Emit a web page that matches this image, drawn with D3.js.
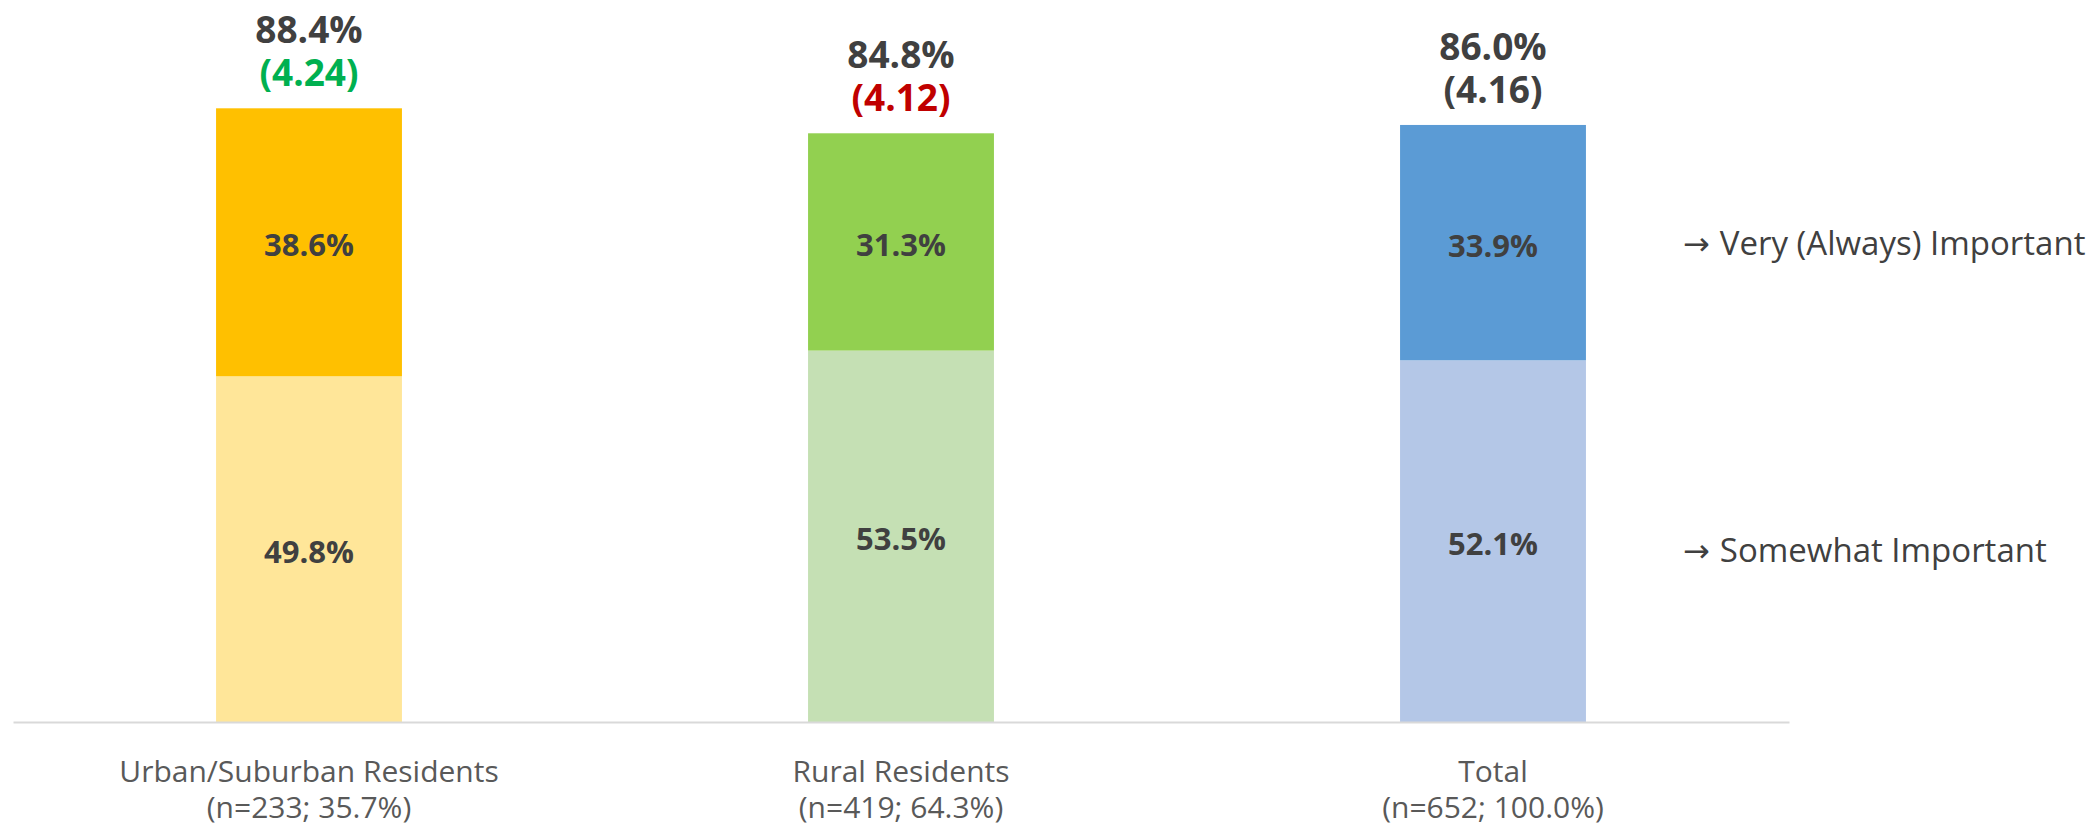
<!DOCTYPE html>
<html>
<head>
<meta charset="utf-8">
<script src="https://cdn.jsdelivr.net/npm/d3@7"></script>
<style>
  body { margin: 0; background: #fff; }
  text { font-family: "Open Sans", "Noto Sans", sans-serif; }
</style>
</head>
<body>
<svg id="svg" width="2098" height="829"></svg>
<script>
var categories = ["Urban/Suburban Residents", "Rural Residents", "Total"];
var subLabels = ["(n=233; 35.7%)", "(n=419; 64.3%)", "(n=652; 100.0%)"];
var somewhat = [49.8, 53.5, 52.1];
var very = [38.6, 31.3, 33.9];
var totals = [88.4, 84.8, 86.0];
var means = ["(4.24)", "(4.12)", "(4.16)"];
var meanColors = ["#00b050", "#c00000", "#404040"];
var veryColors = ["#ffc000", "#92d050", "#5b9bd5"];
var somewhatColors = ["#ffe699", "#c5e0b4", "#b4c7e7"];
var legendLabels = ["Very (Always) Important", "Somewhat Important"];

var svg = d3.select("#svg");

var x = d3.scaleBand()
    .domain(categories)
    .range([13, 1789])
    .paddingInner(0.686)
    .paddingOuter(0.343);

var y = d3.scaleLinear()
    .domain([0, 104])
    .range([722, 0]);

var rows = categories.map(function(c, i) {
    return {cat: c, sub: subLabels[i], s: somewhat[i], v: very[i], t: totals[i], m: means[i], i: i};
});

// lower segments
svg.append("g").selectAll("rect")
    .data(rows)
    .enter().append("rect")
    .attr("x", function(d) { return x(d.cat); })
    .attr("width", x.bandwidth())
    .attr("y", function(d) { return y(d.s); })
    .attr("height", function(d) { return y(0) - y(d.s); })
    .attr("fill", function(d) { return somewhatColors[d.i]; });

// upper segments
svg.append("g").selectAll("rect")
    .data(rows)
    .enter().append("rect")
    .attr("x", function(d) { return x(d.cat); })
    .attr("width", x.bandwidth())
    .attr("y", function(d) { return y(d.s + d.v); })
    .attr("height", function(d) { return y(d.s) - y(d.s + d.v); })
    .attr("fill", function(d) { return veryColors[d.i]; });

// segment labels
var seg = svg.append("g")
    .attr("font-size", "31px")
    .attr("font-weight", "bold")
    .attr("fill", "#404040")
    .attr("text-anchor", "middle");

seg.selectAll("text.lo")
    .data(rows)
    .enter().append("text")
    .attr("class", "lo")
    .attr("x", function(d) { return x(d.cat) + x.bandwidth() / 2; })
    .attr("y", function(d) { return (y(0) + y(d.s)) / 2 + 14; })
    .text(function(d) { return d.s.toFixed(1) + "%"; });

seg.selectAll("text.hi")
    .data(rows)
    .enter().append("text")
    .attr("class", "hi")
    .attr("x", function(d) { return x(d.cat) + x.bandwidth() / 2; })
    .attr("y", function(d) { return (y(d.s) + y(d.s + d.v)) / 2 + 14; })
    .text(function(d) { return d.v.toFixed(1) + "%"; });

// totals and means above bars (one two-line label per bar)
var topText = svg.append("g")
    .attr("font-size", "37px")
    .attr("font-weight", "bold")
    .attr("text-anchor", "middle")
    .selectAll("text")
    .data(rows)
    .enter().append("text")
    .attr("fill", "#404040");

topText.append("tspan")
    .attr("x", function(d) { return x(d.cat) + x.bandwidth() / 2; })
    .attr("y", function(d) { return y(d.s + d.v) - 65; })
    .text(function(d) { return d.t.toFixed(1) + "%"; });

topText.append("tspan")
    .attr("fill", function(d) { return meanColors[d.i]; })
    .attr("x", function(d) { return x(d.cat) + x.bandwidth() / 2; })
    .attr("y", function(d) { return y(d.s + d.v) - 22; })
    .text(function(d) { return d.m; });

// x axis
var axis = svg.append("g")
    .attr("transform", "translate(0," + y(0) + ")")
    .call(d3.axisBottom(x).tickSize(0).tickPadding(0));

axis.select(".domain")
    .attr("stroke", "#d9d9d9")
    .attr("stroke-width", 2);

axis.selectAll(".tick text").each(function(c, i) {
    var t = d3.select(this);
    t.text(null)
        .attr("y", 0)
        .attr("dy", null)
        .attr("fill", "#595959")
        .attr("font-size", "30px")
        .attr("font-family", "\"Open Sans\", sans-serif");
    t.append("tspan").attr("x", 0).attr("y", 60).text(c);
    t.append("tspan").attr("x", 0).attr("y", 96).text(subLabels[i]);
});

// right side labels, aligned with the Total bar segments
var last = rows[rows.length - 1];
var legendY = [
    (y(last.s) + y(last.s + last.v)) / 2 + 12,
    (y(0) + y(last.s)) / 2 + 21
];

var legend = svg.append("g").selectAll("text")
    .data(legendLabels)
    .enter().append("text")
    .attr("x", 1683)
    .attr("y", function(d, i) { return legendY[i]; })
    .attr("font-size", "33px")
    .attr("fill", "#404040");

legend.append("tspan")
    .attr("font-family", "\"DejaVu Sans\", sans-serif")
    .attr("font-size", "32px")
    .text("\u2192");

legend.append("tspan")
    .attr("dx", 10)
    .text(function(d) { return d; });
</script>
</body>
</html>
